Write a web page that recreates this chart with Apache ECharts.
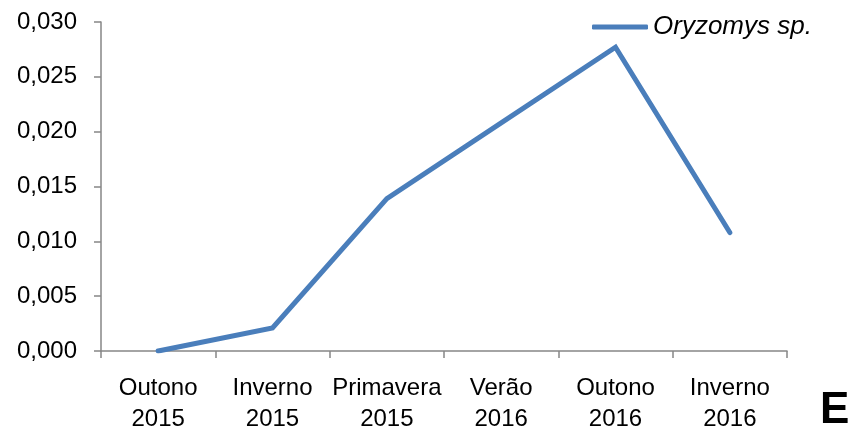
<!DOCTYPE html>
<html>
<head>
<meta charset="utf-8">
<style>
  html, body { margin: 0; padding: 0; background: #fff; }
  #chart { width: 852px; height: 431px; }
</style>
<script src="https://cdn.jsdelivr.net/npm/echarts@6/dist/echarts.min.js"></script>
</head>
<body>
<div id="chart"></div>
<script>
// Seasons sampled (two-line labels: season / year)
const seasons = ['Outono\n2015', 'Inverno\n2015', 'Primavera\n2015', 'Verão\n2016', 'Outono\n2016', 'Inverno\n2016'];
// Values per season for the species
const seriesName = 'Oryzomys sp.';
const oryzomysValues = [0.0000, 0.0021, 0.0139, 0.0208, 0.0277, 0.0108];
// Y-axis range and step
const yMin = 0;
const yMax = 0.030;
const yStep = 0.005;
const panelLetter = 'E';

const axisGray = '#868686';
const lineBlue = '#4a7ebb';
const labelFont = 'Liberation Sans, Arial, sans-serif';

const chart = echarts.init(document.getElementById('chart'), null, { renderer: 'canvas' });

chart.setOption({
  backgroundColor: '#ffffff',
  animation: false,
  grid: { left: 101, right: 65, top: 22, bottom: 80, containLabel: false, outerBoundsMode: 'none' },
  legend: {
    data: [seriesName],
    left: 587,
    top: 9,
    itemWidth: 56,
    itemHeight: 5,
    itemGap: 10,
    icon: 'roundRect',
    textStyle: {
      fontFamily: labelFont,
      fontStyle: 'italic',
      fontSize: 26,
      lineHeight: 26,
      color: '#000',
      padding: [0, 0, 0, 0]
    }
  },
  xAxis: {
    type: 'category',
    data: seasons,
    boundaryGap: true,
    axisLine: { show: true, lineStyle: { color: axisGray, width: 1.5 } },
    axisTick: { show: true, length: 7, alignWithLabel: false, lineStyle: { color: axisGray, width: 1.5 } },
    axisLabel: {
      interval: 0,
      margin: 22,
      fontFamily: labelFont,
      fontSize: 24,
      lineHeight: 31,
      color: '#000',
      align: 'center'
    },
    splitLine: { show: false }
  },
  yAxis: {
    type: 'value',
    min: yMin,
    max: yMax,
    interval: yStep,
    axisLine: { show: true, lineStyle: { color: axisGray, width: 1.5 } },
    axisTick: { show: true, length: 7, lineStyle: { color: axisGray, width: 1.5 } },
    axisLabel: {
      margin: 24,
      fontFamily: labelFont,
      fontSize: 24,
      color: '#000',
      formatter: v => v.toFixed(3).replace('.', ',')
    },
    splitLine: { show: false }
  },
  series: [{
    name: seriesName,
    type: 'line',
    data: oryzomysValues,
    symbol: 'none',
    smooth: false,
    lineStyle: { color: lineBlue, width: 5, cap: 'round', join: 'miter' },
    itemStyle: { color: lineBlue }
  }],
  graphic: [{
    type: 'text',
    left: 820,
    top: 389,
    style: {
      text: panelLetter,
      font: 'bold 44px Liberation Sans, Arial, sans-serif',
      fill: '#000'
    }
  }]
});
</script>
</body>
</html>
